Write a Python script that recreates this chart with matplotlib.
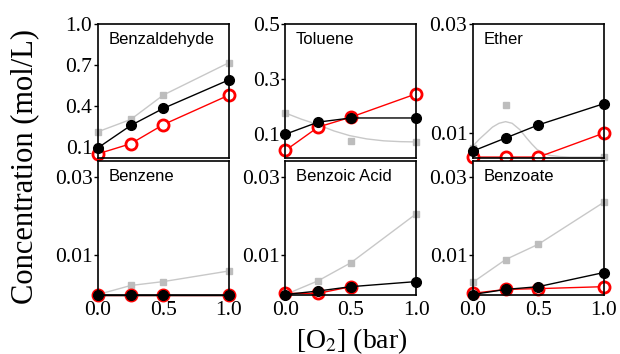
import numpy as np
import matplotlib
matplotlib.use('Agg')
import matplotlib.pyplot as plt

serif = 'Liberation Serif'
sans = 'Liberation Sans'

x = [0.0, 0.25, 0.5, 1.0]
nan = np.nan

# top row
benzaldehyde_gray = [0.21, 0.30, 0.48, 0.717]
benzaldehyde_black = [0.092, 0.256, 0.382, 0.591]
benzaldehyde_red = [0.048, 0.122, 0.263, 0.479]

toluene_gray = [0.177, 0.137, 0.074, 0.072]
toluene_black = [0.10, 0.144, 0.159, 0.159]
toluene_red = [0.041, 0.126, 0.162, 0.247]
toluene_curve_x = [0.0, 0.12, 0.24, 0.37, 0.49, 0.62, 0.75, 0.88, 1.0]
toluene_curve_y = [0.177, 0.155, 0.136, 0.112, 0.095, 0.083, 0.076, 0.073, 0.072]

ether_gray = [0.0072, 0.0152, 0.0056, 0.0056]
ether_black = [0.0067, 0.0091, 0.0115, 0.0154]
ether_red = [0.0056, 0.0056, 0.0056, 0.0100]
ether_curve_x = [0.0, 0.05, 0.105, 0.15, 0.2, 0.25, 0.3, 0.36, 0.41, 0.45, 0.49, 0.54, 0.59, 0.66, 0.74, 1.0]
ether_curve_y = [0.0076, 0.0089, 0.0101, 0.0111, 0.0118, 0.0121, 0.0118, 0.0106, 0.0091, 0.0080,
                 0.0070, 0.0063, 0.0059, 0.0057, 0.0056, 0.0056]

# bottom row
benzene_gray = [0.0, 0.0023, 0.0033, 0.0060]
benzene_black = [0.0, 0.0, 0.0, 0.0]
benzene_red = [0.0, 0.0, 0.0, 0.0]

benzoic_gray = [0.0, 0.0035, 0.0081, 0.0206]
benzoic_black = [0.0, 0.0009, 0.0020, 0.0033]
benzoic_red = [0.0003, 0.0003, 0.0020, nan]

benzoate_gray = [0.0031, 0.0089, 0.0128, 0.0235]
benzoate_black = [0.0, 0.0013, 0.0020, 0.0056]
benzoate_red = [0.0003, 0.0013, 0.0015, 0.0020]

names = ['Benzaldehyde', 'Toluene', 'Ether', 'Benzene', 'Benzoic Acid', 'Benzoate']
grays = [benzaldehyde_gray, toluene_gray, ether_gray, benzene_gray, benzoic_gray, benzoate_gray]
blacks = [benzaldehyde_black, toluene_black, ether_black, benzene_black, benzoic_black, benzoate_black]
reds = [benzaldehyde_red, toluene_red, ether_red, benzene_red, benzoic_red, benzoate_red]
ylims = [(0.02, 1.0), (0.015, 0.5), (0.0055, 0.03), (0, 0.034), (0, 0.034), (0, 0.034)]
yticks = [[0.1, 0.4, 0.7, 1.0], [0.1, 0.3, 0.5], [0.01, 0.03], [0.01, 0.03], [0.01, 0.03], [0.01, 0.03]]
ytlabels = [['0.1', '0.4', '0.7', '1.0'], ['0.1', '0.3', '0.5'], ['0.01', '0.03'],
            ['0.01', '0.03'], ['0.01', '0.03'], ['0.01', '0.03']]

fig, axes = plt.subplots(2, 3, figsize=(6.2, 3.54), dpi=100)
plt.subplots_adjust(left=0.158, right=0.974, top=0.932, bottom=0.168, wspace=0.43, hspace=0.025)

for i, ax in enumerate(axes.flat):
    if i == 1:
        ax.plot(toluene_curve_x, toluene_curve_y, color='#c8c8c8', lw=1.0, clip_on=False)
        ax.plot(x, grays[i], 's', color='#bdbdbd', ms=5, clip_on=False)
    elif i == 2:
        ax.plot(ether_curve_x, ether_curve_y, color='#c8c8c8', lw=1.0, clip_on=False)
        ax.plot(x, grays[i], 's', color='#bdbdbd', ms=5, clip_on=False)
    else:
        ax.plot(x, grays[i], '-s', color='#c8c8c8', mfc='#bdbdbd', mec='#bdbdbd', lw=1.0, ms=5, clip_on=False)
    ax.plot(x, reds[i], '-o', color='red', mfc='white', mec='red', mew=2, ms=8, lw=1.0, clip_on=False)
    ax.plot(x, blacks[i], '-o', color='black', ms=7, lw=1.0, clip_on=False)

    ax.set_xlim(0, 1.0)
    ax.set_ylim(*ylims[i])
    ax.set_yticks(yticks[i])
    ax.set_yticklabels(ytlabels[i], fontfamily=serif, fontsize=15.5)
    ax.tick_params(axis='y', direction='out', length=3, width=1, pad=1)
    if i < 3:
        ax.set_xticks([])
    else:
        ax.set_xticks([0.0, 0.5, 1.0])
        ax.set_xticklabels(['0.0', '0.5', '1.0'], fontfamily=serif, fontsize=15.5)
        ax.tick_params(axis='x', direction='out', length=0, pad=5)
    for s in ax.spines.values():
        s.set_linewidth(1.2)
    ax.text(0.08, 0.885, names[i], transform=ax.transAxes, fontfamily=sans,
            fontsize=12, va='center', ha='left')

fig.text(0.04, 0.53, 'Concentration (mol/L)', rotation=90, fontfamily=serif,
         fontsize=22, ha='center', va='center')
fig.text(0.567, 0.018, r'[O$_2$] (bar)', fontfamily=serif, fontsize=20,
         ha='center', va='baseline', math_fontfamily='stix')

fig.savefig('out.png', dpi=100)
